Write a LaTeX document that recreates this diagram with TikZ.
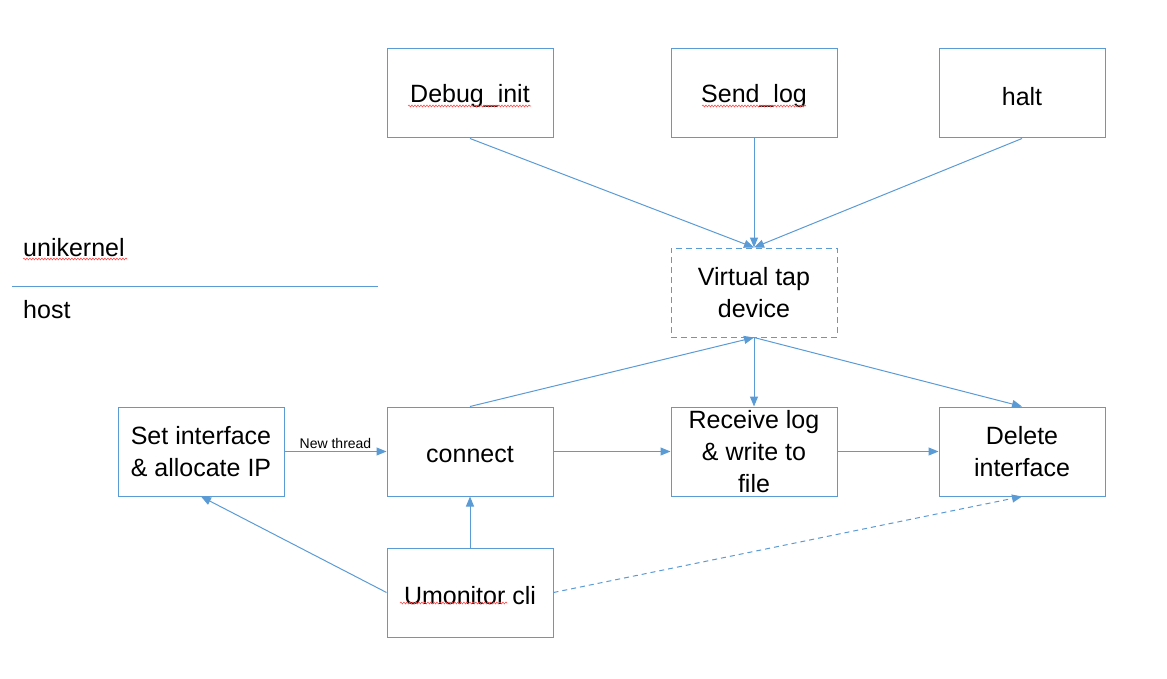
\documentclass[tikz,border=0pt]{standalone}
\usepackage{fontspec}
\setmainfont{Liberation Sans}
\usetikzlibrary{arrows.meta,decorations.pathmorphing}
\definecolor{lineblue}{HTML}{5B9BD5}
\definecolor{squig}{HTML}{FF4D4D}
\newcommand{\lowertext}[1]{\raisebox{-3pt}[\height][\depth]{#1}}
\tikzset{
  box/.style={draw=lineblue, line width=1pt, rectangle, minimum width=166pt, minimum height=89pt, inner sep=0pt, align=center, font=\fontsize{25}{32}\selectfont, text=black},
  dbox/.style={box, dash pattern=on 6pt off 4pt},
  conn/.style={draw=lineblue, line width=1pt, -{Triangle[length=10pt,width=8pt]}},
  dconn/.style={conn, dash pattern=on 5pt off 4pt},
  plain/.style={inner sep=0pt, anchor=west, font=\fontsize{25}{30}\selectfont},
  spell/.style={draw=squig, line width=0.6pt, decorate, decoration={snake, segment length=3pt, amplitude=0.9pt}}
}
\begin{document}
\begin{tikzpicture}[x=1pt,y=-1pt]
\useasboundingbox (0,0) rectangle (1167,679);
% top row
\node[box] (debug) at (470,93.5) {\lowertext{Debug\_init}};
\node[box] (send) at (754,93.5) {\lowertext{Send\_log}};
\node[box] (halt) at (1022,93.5) {\lowertext{halt}};
% tap
\node[dbox] (tap) at (754,292.5) {Virtual tap\\device};
% middle row
\node[box] (setif) at (201,451.5) {Set interface\\\& allocate IP};
\node[box] (conn) at (470,451.5) {\lowertext{connect}};
\node[box] (recv) at (754,451.5) {Receive log\\\& write to\\file};
\node[box] (del) at (1022,451.5) {Delete\\interface};
% bottom
\node[box] (umon) at (470,592.5) {\lowertext{Umonitor cli}};
% side labels
\node[plain] (uni) at (23,248) {unikernel};
\node[plain] (host) at (23,310) {host};
\coordinate (divL) at (12,286);
\coordinate (divR) at (378,286);
\draw[lineblue, line width=1pt] (divL) -- (divR);
% connectors
\draw[conn] (debug.south) -- (tap.north);
\draw[conn] (send.south) -- (tap.north);
\draw[conn] (halt.south) -- (tap.north);
\draw[conn] (conn.north) -- (tap.south);
\draw[conn] (tap.south) -- (recv.north);
\draw[conn] (tap.south) -- (del.north);
\draw[conn] (setif.east) -- node[above=2pt, inner sep=0pt, font=\fontsize{14}{16}\selectfont, text=black] (nt) {New thread} (conn.west);
\draw[conn] (conn.east) -- (recv.west);
\draw[conn] (recv.east) -- (del.west);
\draw[conn] (umon.north) -- (conn.south);
\draw[conn] (umon.west) -- (setif.south);
\draw[dconn] (umon.east) -- (del.south);
% spell-check underlines
\draw[spell] (408,106) -- (531,106);
\draw[spell] (702,106) -- (806,106);
\draw[spell] (23,259) -- (127,259);
\draw[spell] (400,603) -- (507,603);
\end{tikzpicture}
\end{document}
